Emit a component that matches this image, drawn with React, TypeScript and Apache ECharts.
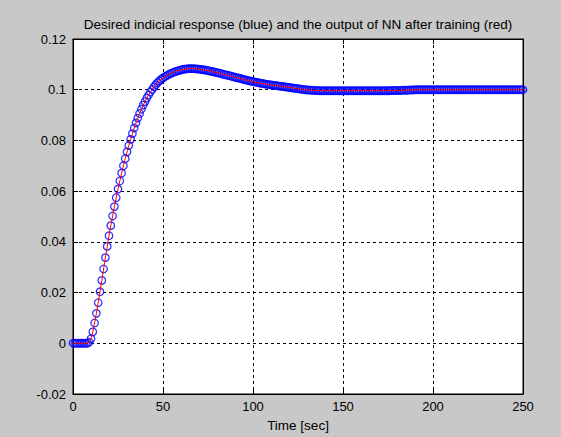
import React, { useEffect, useRef } from "react";
import * as echarts from "echarts";

// Sample period of the simulated response [sec]
const SAMPLE_STEP = 1;

// Desired indicial (step) response, one value per sample from t = 0 to t = 250 s
const desiredResponse: number[] = [
  // 0 - 9
  0, 0, 0, 0, 0, 0, 0, 0, 0, 0.0004,
  // 10 - 19
  0.0018, 0.0045, 0.008, 0.0118, 0.016, 0.0203, 0.0248, 0.0293, 0.0338, 0.0382,
  // 20 - 29
  0.0424, 0.0464, 0.0502, 0.0539, 0.0574, 0.0608, 0.064, 0.0671, 0.07, 0.0728,
  // 30 - 39
  0.0755, 0.078, 0.0804, 0.0827, 0.0849, 0.0869, 0.0888, 0.0906, 0.0923, 0.0939,
  // 40 - 49
  0.0953, 0.0967, 0.0979, 0.0991, 0.1001, 0.1011, 0.102, 0.1028, 0.1035, 0.1041,
  // 50 - 59
  0.1046, 0.1051, 0.1055, 0.1059, 0.1063, 0.1066, 0.1069, 0.1072, 0.1074, 0.1076,
  // 60 - 69
  0.1078, 0.108, 0.1081, 0.1082, 0.1083, 0.1083, 0.1083, 0.1083, 0.1082, 0.1082,
  // 70 - 79
  0.1081, 0.108, 0.1079, 0.1078, 0.1077, 0.1075, 0.1074, 0.1072, 0.1071, 0.1069,
  // 80 - 89
  0.1067, 0.1066, 0.1064, 0.1062, 0.106, 0.1058, 0.1057, 0.1055, 0.1053, 0.1051,
  // 90 - 99
  0.1049, 0.1047, 0.1046, 0.1044, 0.1042, 0.104, 0.1039, 0.1037, 0.1035, 0.1034,
  // 100 - 109
  0.1032, 0.1031, 0.1029, 0.1028, 0.1026, 0.1025, 0.1024, 0.1022, 0.1021, 0.102,
  // 110 - 119
  0.1019, 0.1018, 0.1017, 0.1016, 0.1015, 0.1014, 0.1013, 0.1012, 0.1011, 0.101,
  // 120 - 129
  0.1009, 0.1008, 0.1007, 0.1006, 0.1005, 0.1004, 0.1003, 0.1002, 0.1001, 0.1,
  // 130 - 139
  0.0999, 0.0999, 0.0998, 0.0998, 0.0997, 0.0997, 0.0997, 0.0996, 0.0996, 0.0996,
  // 140 - 149
  0.0996, 0.0996, 0.0996, 0.0996, 0.0996, 0.0996, 0.0996, 0.0996, 0.0996, 0.0996,
  // 150 - 159
  0.0996, 0.0996, 0.0996, 0.0996, 0.0996, 0.0996, 0.0996, 0.0996, 0.0996, 0.0996,
  // 160 - 169
  0.0996, 0.0996, 0.0996, 0.0996, 0.0996, 0.0996, 0.0996, 0.0996, 0.0996, 0.0996,
  // 170 - 179
  0.0996, 0.0996, 0.0996, 0.0996, 0.0996, 0.0996, 0.0996, 0.0997, 0.0997, 0.0997,
  // 180 - 189
  0.0997, 0.0997, 0.0997, 0.0998, 0.0998, 0.0998, 0.0998, 0.0999, 0.0999, 0.0999,
  // 190 - 199
  0.1, 0.1, 0.1, 0.1, 0.1, 0.1, 0.1, 0.1, 0.1, 0.1,
  // 200 - 209
  0.1, 0.1, 0.1, 0.1, 0.1, 0.1, 0.1, 0.1, 0.1, 0.1,
  // 210 - 219
  0.1, 0.1, 0.1, 0.1, 0.1, 0.1, 0.1, 0.1, 0.1, 0.1,
  // 220 - 229
  0.1, 0.1, 0.1, 0.1, 0.1, 0.1, 0.1, 0.1, 0.1, 0.1,
  // 230 - 239
  0.1, 0.1, 0.1, 0.1, 0.1, 0.1, 0.1, 0.1, 0.1, 0.1,
  // 240 - 250
  0.1, 0.1, 0.1, 0.1, 0.1, 0.1, 0.1, 0.1, 0.1, 0.1, 0.1,
];

// Output of the trained network: it reproduces the desired response
const nnOutput: number[] = desiredResponse.slice();

const xTicks: number[] = [0, 50, 100, 150, 200, 250];
const yTicks: number[] = [-0.02, 0, 0.02, 0.04, 0.06, 0.08, 0.1, 0.12];

const TITLE = "Desired indicial response (blue) and the output of NN after training (red)";
const X_NAME = "Time [sec]";

const FONT = "'Liberation Sans', Arial, Helvetica, sans-serif";

export default function App() {
  const ref = useRef<HTMLDivElement>(null);

  useEffect(() => {
    if (!ref.current) return;
    const chart = echarts.init(ref.current, undefined, { renderer: "svg" });

    const toPoints = (vals: number[]) => vals.map((v, i) => [i * SAMPLE_STEP, v]);

    const gridLine = { show: true, lineStyle: { color: "#000", width: 1, type: [3, 3] as number[] } };
    const tickInside = { show: true, inside: true, length: 5, lineStyle: { color: "#000" } };

    chart.setOption({
      animation: false,
      backgroundColor: "#c8c8c8",
      title: {
        text: TITLE,
        left: 293,
        top: 12,
        textAlign: "center",
        textStyle: { fontFamily: FONT, fontSize: 13.5, fontWeight: "normal", color: "#000" },
      },
      grid: {
        left: 73,
        right: 38,
        top: 39,
        bottom: 43,
        show: true,
        backgroundColor: "#ffffff",
        borderColor: "#000",
        borderWidth: 1,
      },
      xAxis: [
        {
          type: "value",
          min: xTicks[0],
          max: xTicks[xTicks.length - 1],
          interval: xTicks[1] - xTicks[0],
          name: X_NAME,
          nameLocation: "middle",
          nameGap: 24,
          nameTextStyle: { fontFamily: FONT, fontSize: 13.5, color: "#000" },
          axisLine: { show: true, onZero: false, lineStyle: { color: "#000" } },
          axisTick: tickInside,
          axisLabel: { fontFamily: FONT, fontSize: 13, color: "#000", margin: 6 },
          splitLine: gridLine,
        },
        {
          type: "value",
          position: "top",
          min: xTicks[0],
          max: xTicks[xTicks.length - 1],
          interval: xTicks[1] - xTicks[0],
          axisLine: { show: true, onZero: false, lineStyle: { color: "#000" } },
          axisTick: tickInside,
          axisLabel: { show: false },
          splitLine: { show: false },
        },
      ],
      yAxis: [
        {
          type: "value",
          min: yTicks[0],
          max: yTicks[yTicks.length - 1],
          interval: 0.02,
          axisLine: { show: true, onZero: false, lineStyle: { color: "#000" } },
          axisTick: tickInside,
          axisLabel: {
            fontFamily: FONT,
            fontSize: 13,
            color: "#000",
            margin: 7,
            formatter: (v: number) => String(parseFloat(v.toFixed(2))),
          },
          splitLine: gridLine,
        },
        {
          type: "value",
          position: "right",
          min: yTicks[0],
          max: yTicks[yTicks.length - 1],
          interval: 0.02,
          axisLine: { show: true, onZero: false, lineStyle: { color: "#000" } },
          axisTick: tickInside,
          axisLabel: { show: false },
          splitLine: { show: false },
        },
      ],
      series: [
        {
          name: "desired",
          type: "scatter",
          data: toPoints(desiredResponse),
          symbol: "circle",
          symbolSize: 7.5,
          clip: false,
          itemStyle: { color: "rgba(0,0,0,0)", borderColor: "#0000ff", borderWidth: 1.3 },
          z: 2,
        },
        {
          name: "nn",
          type: "line",
          data: toPoints(nnOutput),
          showSymbol: false,
          symbol: "none",
          lineStyle: { color: "#ff0000", width: 1 },
          z: 3,
        },
      ],
    });

    return () => chart.dispose();
  }, []);

  return (
    <div
      ref={ref}
      style={{ position: "absolute", left: 0, top: 0, width: 561, height: 437 }}
    />
  );
}
